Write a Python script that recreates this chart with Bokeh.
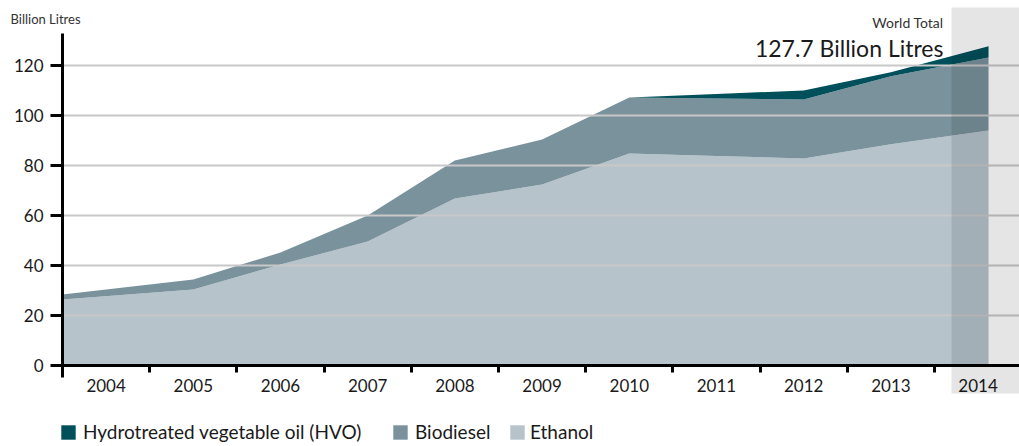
import numpy as np
from bokeh.plotting import figure
from bokeh.models import (Range1d, FixedTicker, Label, BoxAnnotation, Legend,
                          LegendItem, ColumnDataSource)
from bokeh.embed import file_html
from bokeh.resources import INLINE

# ---- data (billion litres) ----
years = [2004, 2005, 2006, 2007, 2008, 2009, 2010, 2011, 2012, 2013, 2014]
ethanol = [26.4, 30.4, 40.4, 49.6, 66.8, 72.4, 84.8, 83.8, 82.8, 88.5, 94.0]
biodiesel = [2.0, 4.0, 4.8, 10.4, 15.2, 18.0, 22.4, 23.0, 23.6, 27.2, 29.2]
hvo = [0.0, 0.0, 0.0, 0.0, 0.0, 0.0, 0.0, 1.8, 3.6, 1.6, 4.5]
series_names = ["Hydrotreated vegetable oil (HVO)", "Biodiesel", "Ethanol"]
y_ticks = [0, 20, 40, 60, 80, 100, 120]
total_label = "127.7 Billion Litres"

# ---- style ----
C_HVO = "#00505B"
C_BIO = "#7A929C"
C_ETH = "#B6C3CB"
FONT = "Lato"
TXT = "#1a1a1a"

XR0, XR1 = 2002.789, 2014.475     # full canvas width
YR0, YR1 = -32.4, 146.0           # full canvas height
X0 = 2003.5                       # position of the value axis

# area x positions: first point starts at the axis, last point slightly past 2014
x_pos = np.array(years, dtype=float)
x_pos[0] = X0
x_pos[-1] = years[-1] + 0.12

src = ColumnDataSource(dict(x=x_pos, ethanol=ethanol, biodiesel=biodiesel, hvo=hvo))

p = figure(width=1019, height=446, x_range=Range1d(XR0, XR1), y_range=Range1d(YR0, YR1),
           output_backend="svg", toolbar_location=None,
           min_border_left=0, min_border_right=0, min_border_top=0, min_border_bottom=0)
p.outline_line_color = None
p.background_fill_color = "white"
p.border_fill_color = "white"
p.grid.visible = False

rs = p.varea_stack(["ethanol", "biodiesel", "hvo"], x="x", source=src,
                   color=[C_ETH, C_BIO, C_HVO])

# horizontal gridlines above the areas, starting at the value axis
g_y = y_ticks[1:]
p.segment(x0=[X0] * len(g_y), x1=[XR1] * len(g_y), y0=g_y, y1=g_y,
          line_color="#C8C8C8", line_width=2)

# highlight band for 2014
band = BoxAnnotation(left=2013.695, bottom=-11.2, top=143.2, fill_color="black",
                     fill_alpha=0.1, line_color=None, level="annotation")
p.add_layout(band)

# y axis (fixed at the left edge of the data)
ya = p.yaxis[0]
ya.fixed_location = X0
ya.ticker = FixedTicker(ticks=y_ticks)
ya.bounds = (-4.8, 132.8)
ya.axis_line_width = 3
ya.axis_line_color = "black"
ya.major_tick_line_width = 3
ya.major_tick_out = 12
ya.major_tick_in = 0
ya.minor_tick_line_color = None
ya.major_label_text_font = FONT
ya.major_label_text_font_size = "17px"
ya.major_label_text_color = TXT
ya.major_label_standoff = 7

# x axis at y=0
xa = p.xaxis[0]
xa.fixed_location = 0
xa.bounds = (X0, XR1)
xa.ticker = FixedTicker(ticks=years, minor_ticks=[y + 0.5 for y in years[:-1]])
xa.axis_line_width = 3
xa.axis_line_color = "black"
xa.major_tick_out = 0
xa.major_tick_in = 0
xa.minor_tick_out = 7
xa.minor_tick_in = 0
xa.minor_tick_line_width = 3
xa.minor_tick_line_color = "black"
xa.major_label_text_font = FONT
xa.major_label_text_font_size = "17px"
xa.major_label_text_color = TXT
xa.major_label_standoff = 6
xa.major_label_overrides = {y: str(y) for y in years}

# texts
p.add_layout(Label(x=2002.904, y=138.8, text="Billion Litres", text_font=FONT,
                   text_font_size="13px", text_color="#333333", text_baseline="middle"))
p.add_layout(Label(x=2013.603, y=137.2, text="World Total", text_font=FONT,
                   text_font_size="14px", text_color="#333333", text_align="right",
                   text_baseline="alphabetic"))
p.add_layout(Label(x=2013.603, y=127.2, text=total_label, text_font=FONT,
                   text_font_size="23px", text_color=TXT, text_align="right",
                   text_baseline="alphabetic"))

# legends (one per item to control positions)
leg_renderers = [rs[2], rs[1], rs[0]]
leg_x = [59, 391, 508]
leg_standoff = [6, 6, 4]
for name, r, lx, so in zip(series_names, leg_renderers, leg_x, leg_standoff):
    lg = Legend(items=[LegendItem(label=name, renderers=[r])], location=(lx, 3),
                orientation="horizontal", padding=0, margin=0, spacing=0,
                glyph_width=18, glyph_height=18, label_standoff=so,
                label_text_font=FONT, label_text_font_size="19px",
                label_text_color=TXT, background_fill_alpha=0,
                border_line_color=None)
    p.add_layout(lg)

open("out.html", "w").write(file_html(p, INLINE))
